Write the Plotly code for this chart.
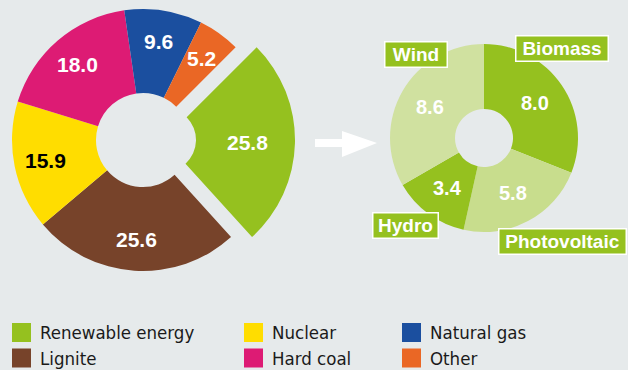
import math
import plotly.graph_objects as go

W, H = 628, 370

# Electricity mix (%)
mix_labels = ["Renewable energy", "Lignite", "Nuclear", "Hard coal", "Natural gas", "Other"]
mix_values = [25.8, 25.6, 15.9, 18.0, 9.6, 5.2]
mix_colors = ["#95c11f", "#77432a", "#ffdd00", "#dd1b74", "#1b4f9f", "#ea6725"]
mix_text_colors = ["white", "white", "black", "white", "white", "white"]

# Breakdown of the renewable share (%)
ren_labels = ["Biomass", "Photovoltaic", "Hydro", "Wind"]
ren_values = [8.0, 5.8, 3.4, 8.6]
ren_colors = ["#95c11f", "#c8dd8d", "#95c11f", "#d0e1a0"]

# Legend layout: three columns, two rows
legend_order = ["Renewable energy", "Nuclear", "Natural gas", "Lignite", "Hard coal", "Other"]

BG = "#e6eaeb"
CLEAR = "rgba(0,0,0,0)"
FONT = "Liberation Sans, Arial, sans-serif"
LEGEND_FONT = "DejaVu Sans Condensed, Liberation Sans, sans-serif"


def px_x(x):
    return x / W


def px_y(y):
    return 1 - y / H


def domain(cx, cy, r):
    return dict(x=[(cx - r) / W, (cx + r) / W], y=[1 - (cy + r) / H, 1 - (cy - r) / H])


def fmt(v):
    return f"{v:.1f}"


def mid_angles(values, rotation):
    """Clockwise angle (deg from 12 o'clock) at the middle of each slice."""
    total = sum(values)
    out, acc = [], 0.0
    for v in values:
        out.append(rotation + 360 * (acc + v / 2) / total)
        acc += v
    return out


def value_labels(values, angles, cx, cy, r, colors, size, keep=None):
    anns = []
    for i, (v, a) in enumerate(zip(values, angles)):
        if keep is not None and not keep(i):
            continue
        t = math.radians(a)
        anns.append(dict(
            x=px_x(cx + r * math.sin(t)), y=px_y(cy - r * math.cos(t)),
            xref="paper", yref="paper", xanchor="center", yanchor="middle",
            text=fmt(v), showarrow=False,
            font=dict(family=FONT, size=size, color=colors[i], weight="bold"),
        ))
    return anns


MAIN_C, MAIN_R, MAIN_HOLE = (143, 140), 131, 47
SEP_C, SEP_HOLE = (164, 140), 32
REN_C, REN_R, REN_HOLE = (484, 138), 94, 29
ROT = 45
REN_IDX = mix_labels.index("Renewable energy")

fig = go.Figure()

# Main ring without the renewable slice
main_colors = [CLEAR if i == REN_IDX else c for i, c in enumerate(mix_colors)]
fig.add_trace(go.Pie(
    labels=mix_labels, values=mix_values, sort=False, direction="clockwise", rotation=ROT,
    hole=MAIN_HOLE / MAIN_R, domain=domain(*MAIN_C, MAIN_R),
    marker=dict(colors=main_colors, line=dict(width=0)),
    textinfo="none", showlegend=False, hoverinfo="skip",
))

# Renewable slice, pushed out from the ring
sep_colors = [c if i == REN_IDX else CLEAR for i, c in enumerate(mix_colors)]
fig.add_trace(go.Pie(
    labels=mix_labels, values=mix_values, sort=False, direction="clockwise", rotation=ROT,
    hole=SEP_HOLE / MAIN_R, domain=domain(*SEP_C, MAIN_R),
    marker=dict(colors=sep_colors, line=dict(width=0)),
    textinfo="none", showlegend=False, hoverinfo="skip",
))

# Renewable breakdown ring
fig.add_trace(go.Pie(
    labels=ren_labels, values=ren_values, sort=False, direction="clockwise", rotation=0,
    hole=REN_HOLE / REN_R, domain=domain(*REN_C, REN_R),
    marker=dict(colors=ren_colors, line=dict(width=0)),
    textinfo="none", showlegend=False, hoverinfo="skip",
))

annotations = []
mix_mid = mid_angles(mix_values, ROT)
annotations += value_labels(mix_values, mix_mid, *MAIN_C, 100, mix_text_colors, 21,
                            keep=lambda i: i != REN_IDX)
annotations += value_labels(mix_values, mix_mid, *SEP_C, 84, mix_text_colors, 21,
                            keep=lambda i: i == REN_IDX)
annotations += value_labels(ren_values, mid_angles(ren_values, 0), *REN_C, 62,
                            ["white"] * len(ren_values), 20)

# Name tags for the renewable sources: centre x, centre y, box width
tag_boxes = {
    "Wind": (416, 54, 64),
    "Biomass": (562, 48, 94),
    "Hydro": (405, 225, 67),
    "Photovoltaic": (562, 241, 129),
}
for name in ren_labels:
    cx, cy, bw = tag_boxes[name]
    annotations.append(dict(
        x=px_x(cx), y=px_y(cy), xref="paper", yref="paper", xanchor="center", yanchor="middle",
        text=name, showarrow=False, width=bw - 3, height=24, borderpad=0,
        bgcolor="#95c11f", bordercolor="white", borderwidth=1.5,
        font=dict(family=FONT, size=19, color="white", weight="bold"),
    ))

# Arrow between the two rings
arrow = [(315, 139), (342, 139), (342, 131), (377, 143), (342, 157), (342, 147), (315, 147)]
path = "M " + " L ".join(f"{px_x(x):.5f},{px_y(y):.5f}" for x, y in arrow) + " Z"
shapes = [dict(type="path", xref="paper", yref="paper", path=path,
               fillcolor="white", line=dict(width=0))]

# Legend: swatch + label in a 3x2 grid
col_x = [12, 244, 402]
row_y = [332.5, 358]
color_of = dict(zip(mix_labels, mix_colors))
for i, name in enumerate(legend_order):
    x0 = col_x[i % 3]
    yc = row_y[i // 3]
    shapes.append(dict(type="rect", xref="paper", yref="paper",
                       x0=px_x(x0), x1=px_x(x0 + 19), y0=px_y(yc + 9.5), y1=px_y(yc - 9.5),
                       fillcolor=color_of[name], line=dict(width=0)))
    annotations.append(dict(
        x=px_x(x0 + 26), y=px_y(yc), xref="paper", yref="paper", xanchor="left", yanchor="middle",
        text=name, showarrow=False,
        font=dict(family=LEGEND_FONT, size=18.5, color="#1a1a1a"),
    ))

fig.update_layout(
    width=W, height=H, margin=dict(l=0, r=0, t=0, b=0),
    paper_bgcolor=BG, plot_bgcolor=BG,
    annotations=annotations, shapes=shapes,
)

fig.write_html("out.html")
